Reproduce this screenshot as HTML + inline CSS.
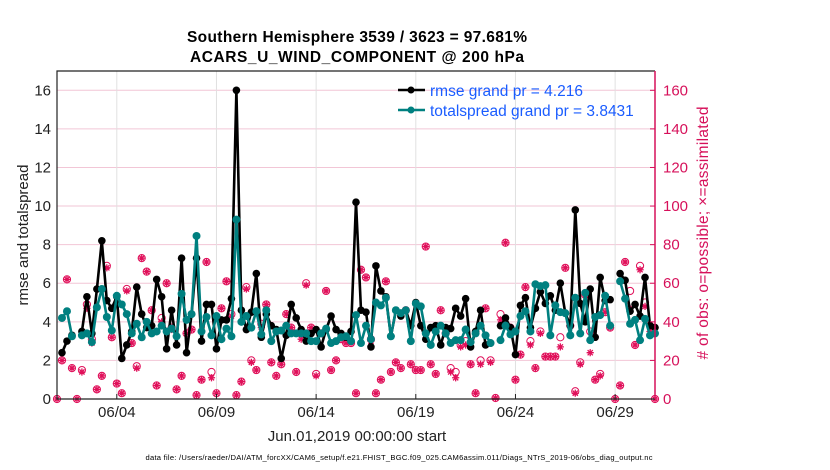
<!DOCTYPE html>
<html><head><meta charset="utf-8"><style>
body{margin:0;background:#fff;}
svg{display:block;font-family:"Liberation Sans",sans-serif;}
</style></head><body>
<svg id="chart" width="830" height="470" viewBox="0 0 830 470">
<text x="357" y="42" text-anchor="middle" font-size="15.5" font-weight="bold" textLength="340">Southern Hemisphere 3539 / 3623 = 97.681%</text>
<text x="357" y="62" text-anchor="middle" font-size="15.5" font-weight="bold" textLength="334">ACARS_U_WIND_COMPONENT @ 200 hPa</text>
<g id="grid"></g>
<g id="marks"></g>
<g id="axes"></g>
<text transform="translate(28,235) rotate(-90)" text-anchor="middle" font-size="15" fill="#222">rmse and totalspread</text>
<text transform="translate(708,233) rotate(-90)" text-anchor="middle" font-size="15.5" fill="#d6105a" textLength="253"># of obs: o=possible; ×=assimilated</text>
<text x="357" y="441" text-anchor="middle" font-size="15" fill="#222">Jun.01,2019 00:00:00 start</text>
<text x="399" y="460" text-anchor="middle" font-size="7.6" fill="#000" textLength="507">data file: /Users/raeder/DAI/ATM_forcXX/CAM6_setup/f.e21.FHIST_BGC.f09_025.CAM6assim.011/Diags_NTrS_2019-06/obs_diag_output.nc</text>
<g>
<line x1="398" y1="90" x2="425" y2="90" stroke="#000" stroke-width="2.5"/>
<circle cx="411" cy="90" r="3.5" fill="#000"/>
<text x="430" y="96" font-size="15.5" fill="#1a5cff">rmse grand pr = 4.216</text>
<line x1="398" y1="110" x2="425" y2="110" stroke="#008080" stroke-width="2.5"/>
<circle cx="411" cy="110" r="3.5" fill="#008080"/>
<text x="430" y="116" font-size="15.5" fill="#1a5cff">totalspread grand pr = 3.8431</text>
</g>
</svg>
<script>
const N = 121;
const rmse = [null,2.4,3.0,3.3,null,3.5,5.3,3.4,5.7,8.2,5.1,4.7,5.3,2.1,2.8,3.5,5.8,4.4,3.7,3.8,6.2,5.3,2.6,4.6,2.8,7.3,2.4,4.4,7.3,3.0,4.9,4.9,2.6,4.1,4.1,5.2,16.0,4.6,3.6,4.5,6.5,3.2,4.4,3.8,3.6,2.1,3.3,4.9,4.2,3.6,3.0,3.4,3.6,2.7,3.6,4.3,3.6,3.4,3.2,3.5,10.2,4.6,4.5,2.7,6.9,5.6,5.3,3.25,4.6,4.3,4.6,3.8,5.0,3.8,3.1,3.7,3.8,2.8,3.7,3.65,4.7,4.3,5.2,2.7,3.5,4.6,2.8,2.9,null,3.8,4.2,3.7,2.3,4.85,5.25,3.7,4.7,5.55,4.95,5.35,4.6,6.0,4.45,3.8,9.8,4.95,4.0,5.7,3.2,6.3,5.1,5.15,null,6.5,6.15,4.55,4.9,4.3,6.3,3.8,3.7];
const spread = [null,4.2,4.55,3.25,null,3.3,3.4,2.95,4.75,5.7,4.25,3.55,5.35,4.9,4.4,3.4,3.9,3.2,4.0,3.4,3.5,3.8,3.5,3.65,3.25,5.45,4.1,4.4,8.45,3.5,4.25,3.3,4.3,3.1,3.65,3.25,9.3,4.0,4.3,3.7,4.55,3.35,4.6,3.0,3.5,3.55,3.8,3.4,3.4,3.4,3.4,3.0,3.0,3.4,3.65,2.9,3.0,3.2,3.25,3.0,4.35,2.9,3.8,3.1,5.0,4.85,5.25,3.25,4.6,4.45,4.6,3.0,4.95,4.8,3.4,2.8,3.5,3.8,3.4,2.9,3.05,3.05,3.6,2.95,3.4,3.8,3.3,2.9,null,3.05,3.8,3.35,3.5,4.3,4.55,3.5,5.95,5.85,5.9,3.3,4.85,4.5,4.45,3.3,5.25,3.4,5.5,3.05,4.25,4.35,5.35,3.8,null,6.1,5.2,3.9,4.1,3.05,4.15,3.3,3.4];
const obsPossible = [0,20,62,16,0,15,49,31,5,12,69,32,8,3,57,29,17,73,66,46,7,42,60,37,5,12,34,36,2,10,71,14,3,47,61,44,2,9,58,20,15,39,49,19,12,18,44,37,14,35,60,37,13,34,56,15,20,31,29,29,3,67,63,31,3,10,61,14,19,16,46,18,15,15,79,18,13,46,34,16,14,28,30,18,3,20,47,20,0.5,44,81,37,10,23,58,30,16,35,22,22,22,32,68,38,4,19,54,35,10,13,45,37,0,7,71,56,28,69,50,38,0];
const obsAssim = [0,20,62,16,0,14,47,29,5,12,68,32,8,3,56,29,16,73,66,46,7,40,60,36,5,12,34,36,2,10,71,11,3,47,61,43,2,9,57,19,15,37,49,19,12,18,44,37,14,31,59,37,12,34,56,15,20,31,29,29,3,67,63,30,3,10,61,14,19,16,46,18,15,15,79,18,13,46,34,14,11,27,28,18,3,18,47,19,0.5,41,81,37,10,23,58,28,16,34,22,22,22,27,68,33,3,18,54,24,10,12,45,37,0,7,71,47,28,67,48,35,0];
const xTickDays = [4,9,14,19,24,29];
const xTickLabels = ["06/04","06/09","06/14","06/19","06/24","06/29"];
const yTicks = [0,2,4,6,8,10,12,14,16];
const yRightTicks = [0,20,40,60,80,100,120,140,160];

const L=57,R=655,T=71,B=399;
const dayMin=1, dayMax=31;
const xScale = d => L + (d-dayMin)/(dayMax-dayMin)*(R-L);
const yScale = v => B - v/17*(B-T);
const yRScale = v => B - v/170*(B-T);
const dayOf = i => 1 + i*0.25;
const NS="http://www.w3.org/2000/svg";
function mk(tag, attrs, parent){const e=document.createElementNS(NS,tag);for(const k in attrs)e.setAttribute(k,attrs[k]);parent.appendChild(e);return e;}
const grid=document.getElementById('grid'), marks=document.getElementById('marks'), axes=document.getElementById('axes');

yRightTicks.forEach(v=>{ if(v===0) return;
  const l=mk('line',{x1:L,x2:R,y1:yRScale(v),y2:yRScale(v),stroke:'#f2c6d6','stroke-width':1},grid);
  
  
});
xTickDays.forEach((d,k)=>{
  const l=mk('line',{x1:xScale(d),x2:xScale(d),y1:T,y2:B,stroke:'#e0e0e0','stroke-width':1},grid);
  
  
  const t=mk('text',{x:xScale(d),y:417,'text-anchor':'middle','font-size':15,fill:'#222'},axes);
  t.textContent=xTickLabels[k];
  
  
  const tk=mk('line',{x1:xScale(d),x2:xScale(d),y1:B,y2:B-5,stroke:'#222'},axes);
  
  
});
yTicks.forEach(v=>{
  const t=mk('text',{x:51,y:yScale(v)+5,'text-anchor':'end','font-size':15,fill:'#222'},axes);
  t.textContent=v;
  
  
});
yRightTicks.forEach(v=>{
  const t=mk('text',{x:663,y:yRScale(v)+5,'font-size':15,fill:'#d6105a'},axes);
  t.textContent=v;
  
  
  const tk=mk('line',{x1:R,x2:R-5,y1:yRScale(v),y2:yRScale(v),stroke:'#d6105a'},axes);
  
  
});
const ax1=mk('path',{d:`M${R},${T}H${L}V${B}H${R}`,fill:'none',stroke:'#222','stroke-width':1.2},axes);


const ax2=mk('line',{x1:R,x2:R,y1:T,y2:B,stroke:'#d6105a','stroke-width':1.5},axes);



for(let i=0;i<N;i++){
  const x=xScale(dayOf(i));
  if(obsPossible[i]!=null){
    const c=mk('circle',{cx:x,cy:yRScale(obsPossible[i]),r:3.6,fill:'none',stroke:'#e0105a','stroke-width':1},marks);
    
    
  }
  if(obsAssim[i]!=null){
    const y=yRScale(obsAssim[i]);
    const s=mk('path',{d:`M${x-3.6},${y}H${x+3.6}M${x},${y-3.6}V${y+3.6}M${x-2.6},${y-2.6}L${x+2.6},${y+2.6}M${x-2.6},${y+2.6}L${x+2.6},${y-2.6}`,stroke:'#e0105a','stroke-width':1.3},marks);
    
    
  }
}
function series(vals,color,name,star){
  let d='',pen=false;
  for(let i=0;i<N;i++){
    const v=vals[i];
    if(v==null){pen=false;continue;}
    d+=(pen?'L':'M')+xScale(dayOf(i)).toFixed(1)+','+yScale(v).toFixed(1);pen=true;
  }
  const p=mk('path',{d:d,fill:'none',stroke:color,'stroke-width':2.6,'stroke-linejoin':'round'},marks);
  
  
  for(let i=0;i<N;i++){
    const v=vals[i]; if(v==null) continue;
    const c=mk('circle',{cx:xScale(dayOf(i)),cy:yScale(v),r:star?3.8:4,fill:color},marks);
    
    
  }
}
series(rmse,'#000','rmse',true);
series(spread,'#008080','totalspread',false);
</script>
</body></html>
